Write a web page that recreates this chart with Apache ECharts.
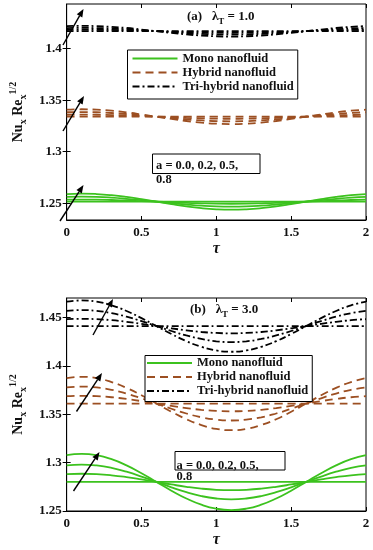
<!DOCTYPE html>
<html lang="en" style="height: 100%">
<head>
  <meta charset="utf-8">
</head>
<body style="height: 100%; margin: 0; background: #fff">
  <div id="container" style="width: 373px; height: 550px"></div>

  <script type="text/javascript" src="https://cdn.jsdelivr.net/npm/echarts@6/dist/echarts.min.js"></script>

  <script type="text/javascript">
    // tau values along the x axis
    var tau = [0, 0.1, 0.2, 0.3, 0.4, 0.5, 0.6, 0.7, 0.8, 0.9, 1.0, 1.1, 1.2, 1.3, 1.4, 1.5, 1.6, 1.7, 1.8, 1.9, 2.0];
    var xTicks = [0, 0.5, 1, 1.5, 2];
    var yTicksA = [1.25, 1.3, 1.35, 1.4];
    var yTicksB = [1.25, 1.3, 1.35, 1.4, 1.45];
    var fluidNames = ['Mono nanofluid', 'Hybrid nanofluid', 'Tri-hybrid nanofluid'];

    // panel (a), lambda_T = 1.0 -- rows: a = 0.0, 0.2, 0.5, 0.8
    var monoA = [
      [1.2515, 1.2515, 1.2515, 1.2515, 1.2515, 1.2515, 1.2515, 1.2515, 1.2515, 1.2515, 1.2515, 1.2515, 1.2515, 1.2515, 1.2515, 1.2515, 1.2515, 1.2515, 1.2515, 1.2515, 1.2515],
      [1.2534, 1.2535, 1.2534, 1.2531, 1.2527, 1.2521, 1.2515, 1.2509, 1.2503, 1.2499, 1.2496, 1.2495, 1.2496, 1.2499, 1.2503, 1.2509, 1.2515, 1.2521, 1.2527, 1.2531, 1.2534],
      [1.2561, 1.2563, 1.2561, 1.2554, 1.2543, 1.2530, 1.2515, 1.2500, 1.2487, 1.2476, 1.2469, 1.2467, 1.2469, 1.2476, 1.2487, 1.2500, 1.2515, 1.2530, 1.2543, 1.2554, 1.2561],
      [1.2589, 1.2593, 1.2589, 1.2578, 1.2561, 1.2539, 1.2515, 1.2491, 1.2469, 1.2452, 1.2441, 1.2437, 1.2441, 1.2452, 1.2469, 1.2491, 1.2515, 1.2539, 1.2561, 1.2578, 1.2589]
    ];
    var hybridA = [
      [1.3340, 1.3340, 1.3340, 1.3340, 1.3340, 1.3340, 1.3340, 1.3340, 1.3340, 1.3340, 1.3340, 1.3340, 1.3340, 1.3340, 1.3340, 1.3340, 1.3340, 1.3340, 1.3340, 1.3340, 1.3340],
      [1.3359, 1.3360, 1.3359, 1.3356, 1.3352, 1.3346, 1.3340, 1.3334, 1.3328, 1.3324, 1.3321, 1.3320, 1.3321, 1.3324, 1.3328, 1.3334, 1.3340, 1.3346, 1.3352, 1.3356, 1.3359],
      [1.3383, 1.3385, 1.3383, 1.3376, 1.3366, 1.3354, 1.3340, 1.3326, 1.3314, 1.3304, 1.3297, 1.3295, 1.3297, 1.3304, 1.3314, 1.3326, 1.3340, 1.3354, 1.3366, 1.3376, 1.3383],
      [1.3408, 1.3412, 1.3408, 1.3398, 1.3382, 1.3362, 1.3340, 1.3318, 1.3298, 1.3282, 1.3272, 1.3268, 1.3272, 1.3282, 1.3298, 1.3318, 1.3340, 1.3362, 1.3382, 1.3398, 1.3408]
    ];
    var triA = [
      [1.4170, 1.4170, 1.4170, 1.4170, 1.4170, 1.4170, 1.4170, 1.4170, 1.4170, 1.4170, 1.4170, 1.4170, 1.4170, 1.4170, 1.4170, 1.4170, 1.4170, 1.4170, 1.4170, 1.4170, 1.4170],
      [1.4184, 1.4185, 1.4184, 1.4182, 1.4179, 1.4175, 1.4170, 1.4165, 1.4161, 1.4158, 1.4156, 1.4155, 1.4156, 1.4158, 1.4161, 1.4165, 1.4170, 1.4175, 1.4179, 1.4182, 1.4184],
      [1.4200, 1.4202, 1.4200, 1.4196, 1.4189, 1.4180, 1.4170, 1.4160, 1.4151, 1.4144, 1.4140, 1.4138, 1.4140, 1.4144, 1.4151, 1.4160, 1.4170, 1.4180, 1.4189, 1.4196, 1.4200],
      [1.4219, 1.4222, 1.4219, 1.4212, 1.4201, 1.4186, 1.4170, 1.4154, 1.4139, 1.4128, 1.4121, 1.4118, 1.4121, 1.4128, 1.4139, 1.4154, 1.4170, 1.4186, 1.4201, 1.4212, 1.4219]
    ];

    // panel (b), lambda_T = 3.0 -- rows: a = 0.0, 0.2, 0.5, 0.8
    var monoB = [
      [1.2800, 1.2800, 1.2800, 1.2800, 1.2800, 1.2800, 1.2800, 1.2800, 1.2800, 1.2800, 1.2800, 1.2800, 1.2800, 1.2800, 1.2800, 1.2800, 1.2800, 1.2800, 1.2800, 1.2800, 1.2800],
      [1.2881, 1.2885, 1.2881, 1.2869, 1.2850, 1.2826, 1.2800, 1.2774, 1.2750, 1.2731, 1.2719, 1.2715, 1.2719, 1.2731, 1.2750, 1.2774, 1.2800, 1.2826, 1.2850, 1.2869, 1.2881],
      [1.2971, 1.2980, 1.2971, 1.2946, 1.2906, 1.2856, 1.2800, 1.2744, 1.2694, 1.2654, 1.2629, 1.2620, 1.2629, 1.2654, 1.2694, 1.2744, 1.2800, 1.2856, 1.2906, 1.2946, 1.2971],
      [1.3076, 1.3090, 1.3076, 1.3035, 1.2971, 1.2890, 1.2800, 1.2710, 1.2629, 1.2565, 1.2524, 1.2510, 1.2524, 1.2565, 1.2629, 1.2710, 1.2800, 1.2890, 1.2971, 1.3035, 1.3076]
    ];
    var hybridB = [
      [1.3610, 1.3610, 1.3610, 1.3610, 1.3610, 1.3610, 1.3610, 1.3610, 1.3610, 1.3610, 1.3610, 1.3610, 1.3610, 1.3610, 1.3610, 1.3610, 1.3610, 1.3610, 1.3610, 1.3610, 1.3610],
      [1.3686, 1.3690, 1.3686, 1.3675, 1.3657, 1.3635, 1.3610, 1.3585, 1.3563, 1.3545, 1.3534, 1.3530, 1.3534, 1.3545, 1.3563, 1.3585, 1.3610, 1.3635, 1.3657, 1.3675, 1.3686],
      [1.3776, 1.3785, 1.3776, 1.3752, 1.3713, 1.3664, 1.3610, 1.3556, 1.3507, 1.3468, 1.3444, 1.3435, 1.3444, 1.3468, 1.3507, 1.3556, 1.3610, 1.3664, 1.3713, 1.3752, 1.3776],
      [1.3872, 1.3885, 1.3872, 1.3832, 1.3772, 1.3695, 1.3610, 1.3525, 1.3448, 1.3388, 1.3348, 1.3335, 1.3348, 1.3388, 1.3448, 1.3525, 1.3610, 1.3695, 1.3772, 1.3832, 1.3872]
    ];
    var triB = [
      [1.4410, 1.4410, 1.4410, 1.4410, 1.4410, 1.4410, 1.4410, 1.4410, 1.4410, 1.4410, 1.4410, 1.4410, 1.4410, 1.4410, 1.4410, 1.4410, 1.4410, 1.4410, 1.4410, 1.4410, 1.4410],
      [1.4481, 1.4485, 1.4481, 1.4471, 1.4454, 1.4433, 1.4410, 1.4387, 1.4366, 1.4349, 1.4339, 1.4335, 1.4339, 1.4349, 1.4366, 1.4387, 1.4410, 1.4433, 1.4454, 1.4471, 1.4481],
      [1.4567, 1.4575, 1.4567, 1.4543, 1.4507, 1.4461, 1.4410, 1.4359, 1.4313, 1.4277, 1.4253, 1.4245, 1.4253, 1.4277, 1.4313, 1.4359, 1.4410, 1.4461, 1.4507, 1.4543, 1.4567],
      [1.4662, 1.4675, 1.4662, 1.4624, 1.4566, 1.4492, 1.4410, 1.4328, 1.4254, 1.4196, 1.4158, 1.4145, 1.4158, 1.4196, 1.4254, 1.4328, 1.4410, 1.4492, 1.4566, 1.4624, 1.4662]
    ];

    var FONT = '"Liberation Serif", "Times New Roman", serif';
    var lineStyles = [
      { color: '#3cc21e', type: 'solid', width: 1.8 },
      { color: '#9c4f22', type: [8, 5], width: 1.8 },
      { color: '#000000', type: [7, 3, 2, 3], width: 1.8 }
    ];

    var dom = document.getElementById('container');
    var myChart = echarts.init(dom, null, { renderer: 'canvas' });

    var panels = [
      { data: [monoA, hybridA, triA] },
      { data: [monoB, hybridB, triB] }
    ];

    var series = [];
    panels.forEach(function (p, pi) {
      p.data.forEach(function (rows, fi) {
        rows.forEach(function (vals) {
          series.push({
            name: fluidNames[fi],
            type: 'line',
            xAxisIndex: pi,
            yAxisIndex: pi,
            symbol: 'none',
            smooth: true,
            z: 2 + fi,
            lineStyle: lineStyles[fi],
            itemStyle: { color: lineStyles[fi].color },
            data: tau.map(function (t, i) { return [t, vals[i]]; })
          });
        });
      });
    });

    var labelStyle = { fontFamily: FONT, fontWeight: 'bold', fontSize: 13, color: '#111' };
    var yNameRich = {
      b: { fontFamily: FONT, fontWeight: 'bold', fontSize: 14, color: '#111', lineHeight: 20 },
      s: { fontFamily: FONT, fontWeight: 'bold', fontSize: 10, color: '#111', verticalAlign: 'bottom' },
      p: { fontFamily: FONT, fontWeight: 'bold', fontSize: 10, color: '#111', verticalAlign: 'top' }
    };
    var titleRich = {
      b: { fontFamily: FONT, fontWeight: 'bold', fontSize: 13, color: '#111', lineHeight: 18 },
      s: { fontFamily: FONT, fontWeight: 'bold', fontSize: 9, color: '#111', verticalAlign: 'bottom' }
    };

    function bottomX(gi) {
      return {
        type: 'value', gridIndex: gi, min: 0, max: 2, interval: 0.5,
        name: 'τ', nameLocation: 'middle', nameGap: 21,
        nameTextStyle: { fontFamily: FONT, fontStyle: 'italic', fontWeight: 'bold', fontSize: 16, color: '#111' },
        axisLine: { lineStyle: { color: '#000' } },
        axisTick: { inside: true, length: 4, lineStyle: { color: '#000' } },
        axisLabel: Object.assign({ margin: 6 }, labelStyle),
        splitLine: { show: false }
      };
    }
    function topX(gi) {
      return {
        type: 'value', gridIndex: gi, position: 'top', min: 0, max: 2, interval: 0.5,
        axisLine: { show: false },
        axisTick: { inside: true, length: 4, lineStyle: { color: '#000' } },
        axisLabel: { show: false },
        splitLine: { show: false }
      };
    }
    function leftY(gi, min, max, ticks) {
      return {
        type: 'value', gridIndex: gi, min: min, max: max,
        name: '{b|Nu}{s|x}{b| Re}{s|x}{p|1/2}', nameLocation: 'middle', nameGap: 29,
        nameTextStyle: { rich: yNameRich },
        axisLine: { lineStyle: { color: '#000' } },
        axisTick: { inside: true, length: 4, customValues: ticks, lineStyle: { color: '#000' } },
        axisLabel: Object.assign({ margin: 5, customValues: ticks }, labelStyle),
        splitLine: { show: false }
      };
    }
    function rightY(gi, min, max, ticks) {
      return {
        type: 'value', gridIndex: gi, position: 'right', min: min, max: max,
        axisLine: { show: false },
        axisTick: { inside: true, length: 4, customValues: ticks, lineStyle: { color: '#000' } },
        axisLabel: { show: false },
        splitLine: { show: false }
      };
    }

    // little black arrows (pixel annotations)
    function arrow(x1, y1, x2, y2) {
      var dx = x2 - x1, dy = y2 - y1, len = Math.sqrt(dx * dx + dy * dy);
      var ux = dx / len, uy = dy / len, hl = 8, hw = 3.2;
      var bx = x2 - ux * hl, by = y2 - uy * hl;
      return [
        { type: 'line', shape: { x1: x1, y1: y1, x2: bx, y2: by }, style: { stroke: '#000', lineWidth: 1.4 }, z: 50 },
        { type: 'polygon', shape: { points: [[x2, y2], [bx - uy * hw, by + ux * hw], [bx + uy * hw, by - ux * hw]] }, style: { fill: '#000' }, z: 50 }
      ];
    }
    function annot(x, y, w, h, tx, ty1, ty2) {
      var f = 'bold 12.5px ' + FONT;
      return [
        { type: 'rect', shape: { x: x, y: y, width: w, height: h }, style: { fill: '#fff', stroke: '#000', lineWidth: 1 }, z: 40 },
        { type: 'text', x: tx, y: ty1, style: { text: 'a = 0.0, 0.2, 0.5,', font: f, fill: '#111', verticalAlign: 'middle' }, z: 41 },
        { type: 'text', x: tx, y: ty2, style: { text: '0.8', font: f, fill: '#111', verticalAlign: 'middle' }, z: 41 }
      ];
    }

    var graphics = []
      .concat(arrow(63, 45, 83.5, 9))
      .concat(arrow(63, 131, 84, 96))
      .concat(arrow(60, 221, 83.5, 185))
      .concat(arrow(93, 335, 113, 299))
      .concat(arrow(76.5, 411.5, 102, 373))
      .concat(arrow(73.5, 491, 99.5, 452))
      .concat(annot(152.5, 154, 107.5, 19.5, 156, 165.5, 180))
      .concat(annot(175, 451.5, 110, 18.5, 176.5, 465.5, 477));

    var legendBase = {
      orient: 'vertical',
      data: fluidNames,
      itemWidth: 45,
      itemHeight: 10,
      itemGap: 1,
      itemStyle: { opacity: 0 },
      borderColor: '#000',
      borderWidth: 1,
      backgroundColor: '#fff',
      textStyle: { fontFamily: FONT, fontWeight: 'bold', fontSize: 12.5, color: '#111' }
    };

    var option = {
      animation: false,
      backgroundColor: '#fff',
      title: [
        { text: '{b|(a)   λ}{s|T}{b| = 1.0}', left: 182, top: 3, textStyle: { rich: titleRich } },
        { text: '{b|(b)   λ}{s|T}{b| = 3.0}', left: 185, top: 296, textStyle: { rich: titleRich } }
      ],
      grid: [
        { left: 58, top: 4, width: 308, height: 216, show: true, borderColor: '#000', borderWidth: 1 },
        { left: 58, top: 298, width: 308, height: 213, show: true, borderColor: '#000', borderWidth: 1 }
      ],
      legend: [
        Object.assign({}, legendBase, { left: 127.5, top: 50, padding: [2, 4, 6, 4] }),
        Object.assign({}, legendBase, { left: 145, top: 355.5, padding: [1, 4, 4, 1] })
      ],
      xAxis: [bottomX(0), bottomX(1), topX(0), topX(1)],
      yAxis: [
        leftY(0, 1.2337, 1.4434, yTicksA),
        leftY(1, 1.25, 1.47, yTicksB),
        rightY(0, 1.2337, 1.4434, yTicksA),
        rightY(1, 1.25, 1.47, yTicksB)
      ],
      graphic: graphics,
      series: series
    };

    myChart.setOption(option);
    window.addEventListener('resize', myChart.resize);
  </script>
</body>
</html>
